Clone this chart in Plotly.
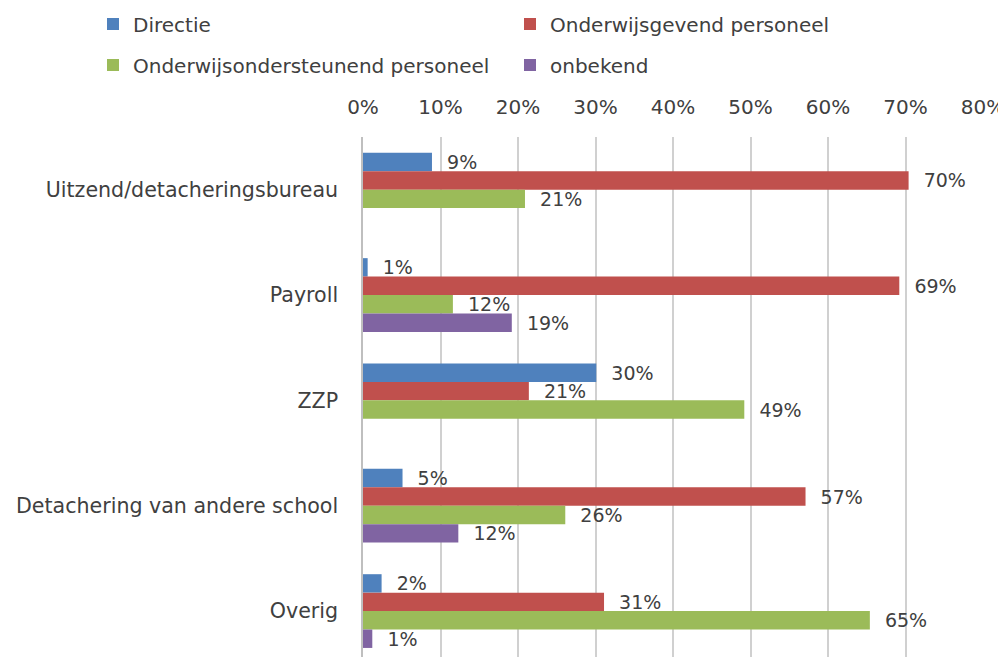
import plotly.graph_objects as go

categories = ["Uitzend/detacheringsbureau", "Payroll", "ZZP",
              "Detachering van andere school", "Overig"]
series_names = ["Directie", "Onderwijsgevend personeel",
                "Onderwijsondersteunend personeel", "onbekend"]
directie = [0.089, 0.006, 0.301, 0.051, 0.024]
onderwijsgevend = [0.704, 0.692, 0.214, 0.571, 0.311]
ondersteunend = [0.209, 0.116, 0.492, 0.261, 0.654]
onbekend = [None, 0.192, None, 0.123, 0.012]
colors = ["#4F81BD", "#C0504D", "#9BBB59", "#8064A2"]
x_ticks = [0, 0.1, 0.2, 0.3, 0.4, 0.5, 0.6, 0.7, 0.8]

FONT = "DejaVu Sans"
TXT = "#404040"
# the page body adds an 8px offset, so the figure is 998x649
W, H = 998, 649
L, R, T = 355, 23, 129
PW = W - L - R
PH = H - T

fig = go.Figure()
all_vals = [directie, onderwijsgevend, ondersteunend, onbekend]
legends = ["legend", "legend", "legend2", "legend2"]
for name, vals, col, lg in zip(series_names, all_vals, colors, legends):
    fig.add_trace(go.Bar(
        y=categories, x=vals, name=name, orientation="h",
        marker=dict(color=col, line=dict(width=0)),
        texttemplate="  %{x:.0%}", textposition="outside",
        textfont=dict(family=FONT, size=19, color=TXT),
        constraintext="none", cliponaxis=False,
        legend=lg, hoverinfo="skip",
    ))

leg_common = dict(orientation="h", xref="paper", yref="paper",
                  x=(85 - L) / PW, xanchor="left", yanchor="middle",
                  entrywidth=372, entrywidthmode="pixels",
                  font=dict(family=FONT, size=20, color=TXT),
                  traceorder="normal", bgcolor="rgba(0,0,0,0)")

fig.update_layout(
    width=W, height=H,
    margin=dict(l=L, r=R, t=T, b=0, autoexpand=False),
    paper_bgcolor="white", plot_bgcolor="white",
    barmode="group", bargap=0.3, bargroupgap=0,
    font=dict(family=FONT, color=TXT),
    showlegend=True,
    legend=dict(leg_common, y=1 + (T - 16) / PH),
    legend2=dict(leg_common, y=1 + (T - 57) / PH),
    xaxis=dict(side="top", range=[0, 0.8], tickvals=x_ticks, tickformat=".0%",
               showgrid=True, gridcolor="#d0d0d0", gridwidth=1.5,
               zeroline=False, showline=False, ticks="", automargin=False,
               ticklabelstandoff=18,
               tickfont=dict(family=FONT, size=20, color=TXT)),
    yaxis=dict(categoryorder="array", categoryarray=categories,
               range=[4.436, -0.5], showgrid=False, zeroline=False,
               showline=True, linecolor="#bfbfbf", linewidth=1.5,
               ticks="", ticklabelstandoff=19, automargin=False,
               tickfont=dict(family=FONT, size=20.6, color=TXT)),
)

fig.write_html("out.html")
